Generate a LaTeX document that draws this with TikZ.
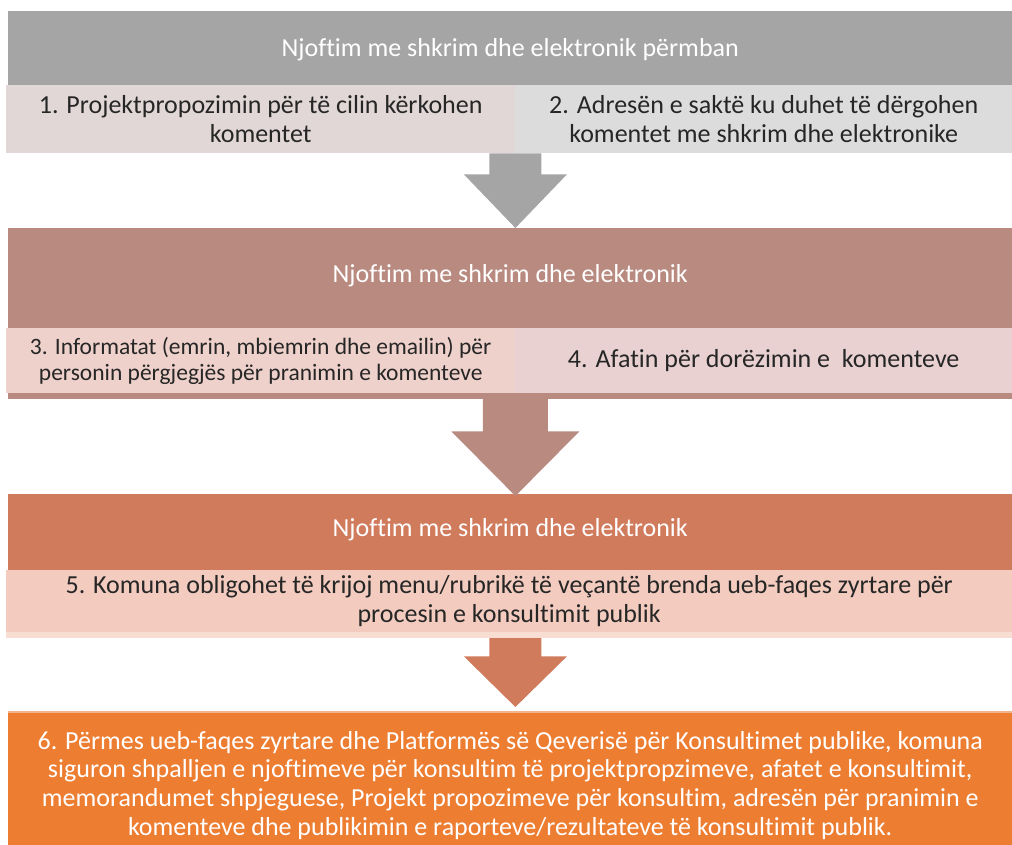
\documentclass[tikz,border=0pt]{standalone}
\usepackage{fontspec}
\setmainfont{Carlito}[Ligatures=NoCommon]
\usetikzlibrary{calc}

\definecolor{hdgray}{HTML}{A5A5A5}
\definecolor{rowgrayA}{HTML}{E2D7D7}
\definecolor{rowgrayB}{HTML}{DCDCDC}
\definecolor{hdrose}{HTML}{B98A80}
\definecolor{rowroseA}{HTML}{EFD1CB}
\definecolor{rowroseB}{HTML}{E8D1D0}
\definecolor{hdterra}{HTML}{D17B5D}
\definecolor{rowterra}{HTML}{F3CCBF}
\definecolor{bandterra}{HTML}{F8DDD3}
\definecolor{boxorange}{HTML}{ED7D31}
\definecolor{edgeorange}{HTML}{F4B48C}
\definecolor{txtdark}{HTML}{262626}

\tikzset{
  box/.style={anchor=north west, inner sep=0pt, align=center,
              font=\fontsize{26}{28.7}\selectfont},
  hdr/.style={box, text=white},
  row/.style={box, text=txtdark},
  smallrow/.style={row, font=\fontsize{23.5}{26}\selectfont},
}

\begin{document}
\begin{tikzpicture}[x=1pt,y=-1pt]
\useasboundingbox[fill=white] (0,0) rectangle (1012,845);

% --- first block: notice contents ---
\node[hdr, fill=hdgray, minimum width=1004pt, minimum height=74pt, text depth=2pt] (h1) at (8,11)
  {Njoftim me shkrim dhe elektronik përmban};
\node[row, fill=rowgrayA, minimum width=509pt, minimum height=68pt] (r1) at (6,85)
  {1. Projektpropozimin për të cilin kërkohen\\komentet};
\node[row, fill=rowgrayB, minimum width=497pt, minimum height=68pt] (r2) at (515,85)
  {2. Adresën e saktë ku duhet të dërgohen\\komentet me shkrim dhe elektronike};

% --- second block ---
\node[hdr, fill=hdrose, minimum width=1004pt, minimum height=100pt, text depth=10pt] (h2) at (8,228)
  {Njoftim me shkrim dhe elektronik};
\fill[hdrose] (h2.south west) rectangle ++(1004,71);
\node[smallrow, fill=rowroseA, minimum width=509pt, minimum height=65pt] (r3) at (6,328)
  {3. Informatat (emrin, mbiemrin dhe emailin) për\\personin përgjegjës për pranimin e komenteve};
\node[row, fill=rowroseB, minimum width=497pt, minimum height=65pt] (r4) at (515,328)
  {4. Afatin për dorëzimin e\ \ komenteve};

% --- third block ---
\node[hdr, fill=hdterra, minimum width=1004pt, minimum height=76pt, text depth=10pt] (h3) at (8,494)
  {Njoftim me shkrim dhe elektronik};
\node[row, fill=rowterra, minimum width=1006pt, minimum height=62pt] (r5) at (6,570)
  {5. Komuna obligohet të krijoj menu/rubrikë të veçantë brenda ueb-faqes zyrtare për\\procesin e konsultimit publik};

% --- final block ---
\node[hdr, fill=boxorange, minimum width=1004pt, minimum height=133pt] (b6) at (8,712)
  {\rule{0pt}{31pt}6. Përmes ueb-faqes zyrtare dhe Platformës së Qeverisë për Konsultimet publike, komuna\\
   siguron shpalljen e njoftimeve për konsultim të projektpropzimeve, afatet e konsultimit,\\
   memorandumet shpjeguese, Projekt propozimeve për konsultim, adresën për pranimin e\\
   komenteve dhe publikimin e raporteve/rezultateve të konsultimit publik.};
\draw[edgeorange, line width=1.2pt] (b6.north west) -- (b6.north east);

% --- block arrows between the stages ---
\coordinate (t1) at (r1.south east |- h2.north);
\fill[hdgray] ($(r1.south east)+(-26,0)$) -- ($(r1.south east)+(26,0)$)
  -- ($(r1.south east)+(26,21)$) -- ($(r1.south east)+(51.5,21)$) -- (t1)
  -- ($(r1.south east)+(-51.5,21)$) -- ($(r1.south east)+(-26,21)$) -- cycle;

\coordinate (t2) at ($(r3.south east |- h3.north)+(0,2)$);
\fill[hdrose] ($(r3.south east)+(-32.5,0)$) -- ($(r3.south east)+(32.5,0)$)
  -- ($(r3.south east)+(32.5,38)$) -- ($(r3.south east)+(64,38)$) -- (t2)
  -- ($(r3.south east)+(-64,38)$) -- ($(r3.south east)+(-32.5,38)$) -- cycle;

\coordinate (a3) at (r5.south -| r1.south east);
\coordinate (t3) at ($(a3 |- b6.north)+(0,-5)$);
\fill[hdterra] ($(a3)+(-26,0)$) -- ($(a3)+(26,0)$)
  -- ($(a3)+(26,24)$) -- ($(a3)+(51.5,24)$) -- (t3)
  -- ($(a3)+(-51.5,24)$) -- ($(a3)+(-26,24)$) -- cycle;
\fill[bandterra] (r5.south west) rectangle ++(1006,6);
\end{tikzpicture}
\end{document}
